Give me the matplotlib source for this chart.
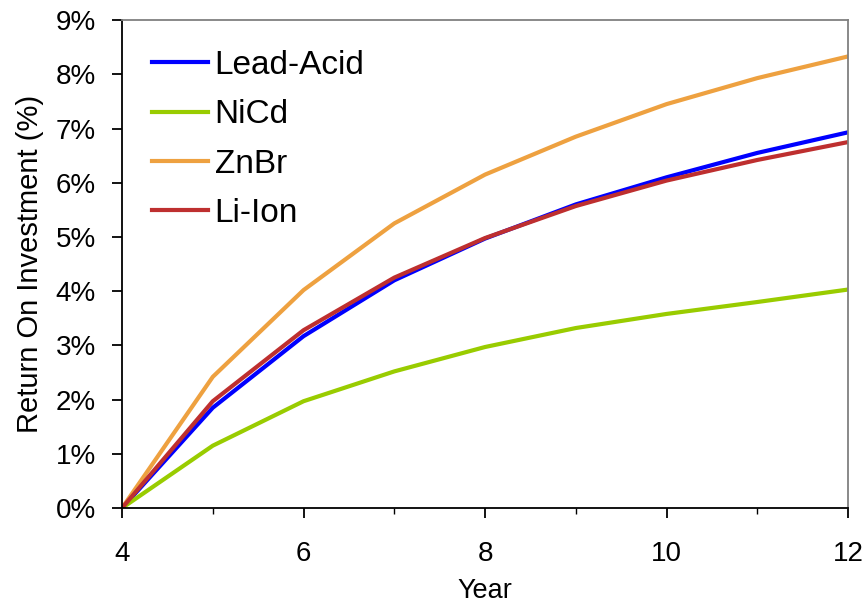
import matplotlib.pyplot as plt
from matplotlib.ticker import MultipleLocator, FuncFormatter

years = [4, 5, 6, 7, 8, 9, 10, 11, 12]
lead_acid = [0, 1.85, 3.17, 4.20, 4.97, 5.60, 6.10, 6.55, 6.93]
nicd = [0, 1.15, 1.97, 2.52, 2.97, 3.32, 3.58, 3.80, 4.03]
znbr = [0, 2.42, 4.02, 5.25, 6.15, 6.85, 7.45, 7.93, 8.33]
li_ion = [0, 1.97, 3.28, 4.25, 4.98, 5.57, 6.04, 6.42, 6.75]

plt.rcParams['font.family'] = ['Liberation Sans', 'DejaVu Sans']

fig = plt.figure(figsize=(8.68, 6.09), dpi=100)
ax = fig.add_axes([0.1406, 0.1658, 0.8364, 0.8012])

ax.plot(years, lead_acid, color='#0000FF', lw=3, label='Lead-Acid')
ax.plot(years, nicd, color='#99CC00', lw=3, label='NiCd')
ax.plot(years, znbr, color='#EEA140', lw=3, label='ZnBr')
ax.plot(years, li_ion, color='#BE2F2F', lw=3, label='Li-Ion')

ax.set_xlim(4, 12)
ax.set_ylim(0, 9)
ax.xaxis.set_major_locator(MultipleLocator(2))
ax.xaxis.set_minor_locator(MultipleLocator(1))
ax.yaxis.set_major_locator(MultipleLocator(1))
ax.yaxis.set_major_formatter(FuncFormatter(lambda v, p: '%d%%' % v))

ax.tick_params(axis='both', which='major', direction='out', length=7, width=1.3,
               labelsize=20)
ax.tick_params(axis='y', which='major', pad=12)
ax.tick_params(axis='x', which='major', pad=17)
ax.tick_params(axis='x', which='minor', direction='out', length=4, width=1.0)

for s in ['left', 'bottom']:
    ax.spines[s].set_color('black')
    ax.spines[s].set_linewidth(1.3)
for s in ['top', 'right']:
    ax.spines[s].set_color('#808080')
    ax.spines[s].set_linewidth(1.3)

ax.set_xlabel('Year', fontsize=19.5, labelpad=8)
ax.set_ylabel('Return On Investment (%)', fontsize=21, labelpad=8)

ax.legend(loc='upper left', frameon=False, fontsize=24, handlelength=1.68,
          handletextpad=0.2, labelspacing=0.55, borderaxespad=0.5,
          bbox_to_anchor=(0.0, 1.0))

fig.savefig('out.png', dpi=100)
